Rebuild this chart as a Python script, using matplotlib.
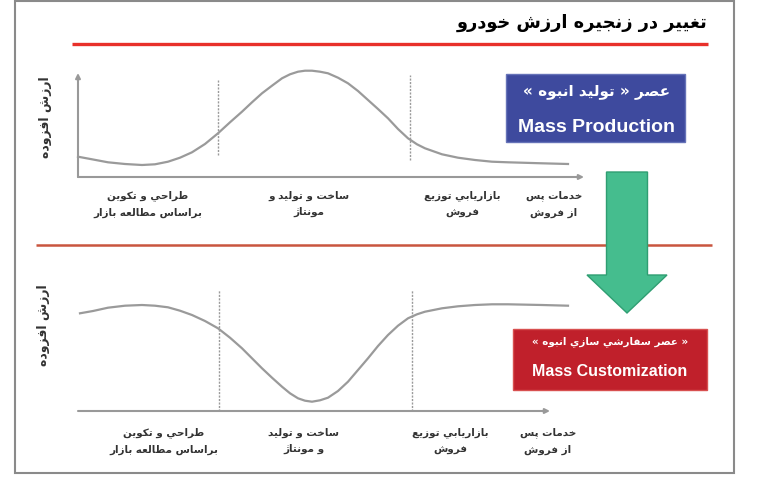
import matplotlib
matplotlib.use("Agg")
import matplotlib.pyplot as plt
from matplotlib.patches import Rectangle, FancyArrow

# ---- data (x = position along the chain, y = value added) ----
top_x = [0, 14, 30, 47, 64, 77, 90, 102, 114, 127, 140, 152, 164, 174, 184,
         194, 204, 212, 220, 227, 234, 242, 250, 260, 270, 280, 290, 300,
         310, 320, 330, 339, 347, 364, 380, 397, 414, 430, 464, 490]
top_y = [20.3, 17.7, 14.7, 13.0, 12.0, 12.7, 15.3, 19.3, 24.7, 33.0, 43.7,
         54.7, 65.3, 74.7, 83.7, 91.3, 98.7, 102.7, 105.3, 106.3, 106.3,
         105.3, 103.7, 99.3, 93.7, 86.0, 77.0, 68.0, 58.7, 48.0, 38.7, 32.7,
         28.7, 22.7, 19.3, 17.0, 15.3, 14.7, 13.7, 13.0]

bot_x = [2, 15, 30, 47, 64, 77, 90, 102, 114, 127, 140, 152, 164, 174, 184,
         194, 204, 212, 220, 227, 234, 242, 250, 260, 270, 280, 290, 300,
         310, 320, 330, 339, 347, 364, 380, 397, 414, 430, 464, 490]
bot_y = [97.7, 100.0, 103.3, 105.3, 106.0, 105.3, 103.7, 100.3, 96.0, 90.0,
         82.7, 73.3, 62.7, 52.7, 42.7, 33.3, 24.3, 17.7, 12.7, 10.3, 9.3,
         10.7, 13.3, 20.0, 29.3, 41.0, 52.7, 65.0, 76.0, 85.3, 92.7, 96.7,
         99.3, 102.7, 104.7, 106.0, 106.7, 106.7, 106.0, 105.3]

top_bounds = [140, 332]     # stage borders (dotted)
bot_bounds = [141, 334]

title = "تغيير در زنجيره ارزش خودرو"
ylabel = "ارزش افزوده"
top_stages = ["طراحي و تكوين\nبراساس مطالعه بازار", "ساخت و توليد و\nمونتاژ",
              "بازاريابي توزيع\nفروش", "خدمات پس\nاز فروش"]
bot_stages = ["طراحي و تكوين\nبراساس مطالعه بازار", "ساخت و توليد\nو مونتاژ",
              "بازاريابي توزيع\nفروش", "خدمات پس\nاز فروش"]
box1 = ["عصر « توليد انبوه »", "Mass Production"]
box2 = ["« عصر سفارشي سازي انبوه »", "Mass Customization"]

# ---- tiny persian shaper (no arabic_reshaper / bidi available) ----
FORMS = {
    'ا': (0xFE8D, 0xFE8E), 'ب': (0xFE8F, 0xFE90, 0xFE91, 0xFE92),
    'پ': (0xFB56, 0xFB57, 0xFB58, 0xFB59), 'ت': (0xFE95, 0xFE96, 0xFE97, 0xFE98),
    'ج': (0xFE9D, 0xFE9E, 0xFE9F, 0xFEA0), 'ح': (0xFEA1, 0xFEA2, 0xFEA3, 0xFEA4),
    'خ': (0xFEA5, 0xFEA6, 0xFEA7, 0xFEA8), 'د': (0xFEA9, 0xFEAA),
    'ر': (0xFEAD, 0xFEAE), 'ز': (0xFEAF, 0xFEB0), 'ژ': (0xFB8A, 0xFB8B),
    'س': (0xFEB1, 0xFEB2, 0xFEB3, 0xFEB4), 'ش': (0xFEB5, 0xFEB6, 0xFEB7, 0xFEB8),
    'ص': (0xFEB9, 0xFEBA, 0xFEBB, 0xFEBC), 'ط': (0xFEC1, 0xFEC2, 0xFEC3, 0xFEC4),
    'ع': (0xFEC9, 0xFECA, 0xFECB, 0xFECC), 'غ': (0xFECD, 0xFECE, 0xFECF, 0xFED0),
    'ف': (0xFED1, 0xFED2, 0xFED3, 0xFED4), 'ك': (0xFED9, 0xFEDA, 0xFEDB, 0xFEDC),
    'ل': (0xFEDD, 0xFEDE, 0xFEDF, 0xFEE0), 'م': (0xFEE1, 0xFEE2, 0xFEE3, 0xFEE4),
    'ن': (0xFEE5, 0xFEE6, 0xFEE7, 0xFEE8), 'ه': (0xFEE9, 0xFEEA, 0xFEEB, 0xFEEC),
    'و': (0xFEED, 0xFEEE), 'ي': (0xFEF1, 0xFEF2, 0xFEF3, 0xFEF4),
}
MIRROR = {'«': '»', '»': '«'}


def fa(text):
    lines = []
    for s in text.split("\n"):
        out = []
        for i, ch in enumerate(s):
            if ch not in FORMS:
                out.append(ch)
                continue
            f = FORMS[ch]
            prev = s[i - 1] if i > 0 else ''
            nxt = s[i + 1] if i + 1 < len(s) else ''
            pj = prev in FORMS and len(FORMS[prev]) == 4
            nj = nxt in FORMS and len(f) == 4
            if pj and nj:
                c = f[3]
            elif pj:
                c = f[1]
            elif nj:
                c = f[2]
            else:
                c = f[0]
            out.append(chr(c))
        lines.append(''.join(MIRROR.get(c, c) for c in reversed(out)))
    return "\n".join(lines)


W, H = 761, 479
fig = plt.figure(figsize=(W / 100, H / 100), dpi=100)

# background in pixel coords
bg = fig.add_axes([0, 0, 1, 1])
bg.set_xlim(0, W)
bg.set_ylim(H, 0)
bg.axis("off")

bg.add_patch(Rectangle((15, 1), 719, 472, fill=False, ec="#8a8a8a", lw=1.5))
bg.plot([72, 708], [44, 44], color="#e8302a", lw=2.4, solid_capstyle="butt")
bg.plot([36, 712], [245, 245], color="#c9553f", lw=1.8, solid_capstyle="butt")

bg.text(708, 23, fa(title), ha="right", va="center", fontsize=12.8,
        fontweight="bold", family="DejaVu Sans", color="black")

# boxes
bg.add_patch(Rectangle((506, 74), 179, 68, fc="#3e4a9e", ec="#6673b8", lw=1))
bg.text(597, 91, fa(box1[0]), ha="center", va="center", fontsize=11,
        fontweight="bold", color="white", family="DejaVu Sans")
bg.text(596, 127, box1[1], ha="center", va="center", fontsize=14,
        fontweight="bold", color="white", family="Liberation Sans")

bg.add_patch(Rectangle((513, 329), 194, 61, fc="#c0202b", ec="#d85050", lw=1))
bg.text(610, 342, fa(box2[0]), ha="center", va="center", fontsize=7.4,
        fontweight="bold", color="white", family="DejaVu Sans")
bg.text(610, 371, box2[1], ha="center", va="center", fontsize=11.5,
        fontweight="bold", color="white", family="Liberation Sans")

# green arrow
bg.add_patch(FancyArrow(627, 172, 0, 141, width=41, head_width=80,
                        head_length=38, length_includes_head=True,
                        fc="#45bd8e", ec="#2f9e72", lw=1, zorder=5))

# stage labels
for lab, x in zip(top_stages, [148, 309, 462, 554]):
    bg.text(x, 204, fa(lab), ha="center", va="center", fontsize=7.5,
            fontweight="bold", color="#333333", family="DejaVu Sans",
            linespacing=1.8)
for lab, x in zip(bot_stages, [164, 304, 450, 548]):
    bg.text(x, 441, fa(lab), ha="center", va="center", fontsize=7.5,
            fontweight="bold", color="#333333", family="DejaVu Sans",
            linespacing=1.8)

bg.text(45, 117, fa(ylabel), rotation=90, ha="center", va="center",
        fontsize=9, fontweight="bold", color="#333333", family="DejaVu Sans")
bg.text(44, 325, fa(ylabel), rotation=90, ha="center", va="center",
        fontsize=9, fontweight="bold", color="#333333", family="DejaVu Sans")


def chart(rect, ymax, xs, ys, bounds, btop, bbot, xend, yaxis_x):
    ax = fig.add_axes(rect)
    ax.set_xlim(0, 508)
    ax.set_ylim(0, ymax)
    ax.axis("off")
    ax.plot(xs, ys, color="#9a9a9a", lw=1.6, clip_on=False)
    for b, t, lo in zip(bounds, btop, bbot):
        ax.plot([b, b], [lo, t], color="#9a9a9a", lw=1, ls=(0, (1.5, 1)),
                clip_on=False)
    ax.annotate("", xy=(xend, 0), xytext=(0, 0),
                arrowprops=dict(arrowstyle="-|>", color="#999999", lw=1.5,
                                mutation_scale=7, shrinkA=0, shrinkB=0))
    ax.annotate("", xy=(yaxis_x, ymax), xytext=(yaxis_x, 0),
                arrowprops=dict(arrowstyle="-|>", color="#999999", lw=1.5,
                                mutation_scale=7, shrinkA=0, shrinkB=0))
    return ax


chart([78 / W, (H - 177) / H, 508 / W, 104 / H], 104, top_x, top_y,
      top_bounds, [97, 102], [22, 17], 506, 0)
chart([78 / W, (H - 411) / H, 508 / W, 127 / H], 127, bot_x, bot_y,
      bot_bounds, [121, 121], [0, 0], 472, -5)

fig.savefig("out.png", dpi=100)
